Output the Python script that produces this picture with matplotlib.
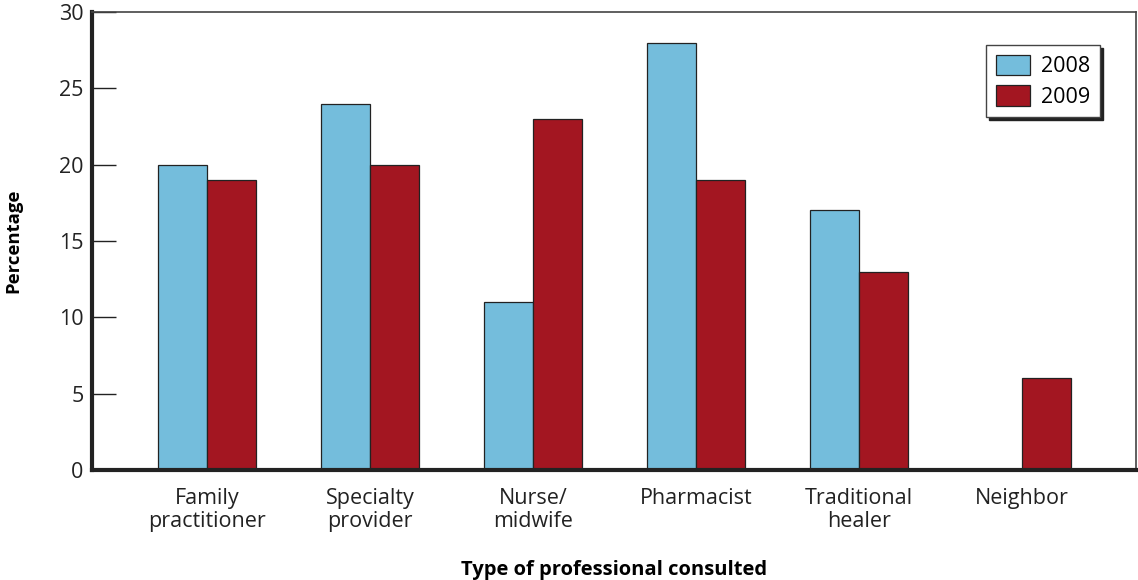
import matplotlib.pyplot as plt
import numpy as np

plt.rcParams['font.family'] = ['Open Sans', 'DejaVu Sans']

categories = ['Family\npractitioner', 'Specialty\nprovider', 'Nurse/\nmidwife',
              'Pharmacist', 'Traditional\nhealer', 'Neighbor']
vals_2008 = [20, 24, 11, 28, 17, 0]
vals_2009 = [19, 20, 23, 19, 13, 6]
yticks = [0, 5, 10, 15, 20, 25, 30]

fig = plt.figure(figsize=(11.38, 5.8), dpi=100)
ax = fig.add_axes([0.0808, 0.1897, 0.9174, 0.7896])

x = np.arange(len(categories))
w = 0.30
ax.bar(x - w / 2, vals_2008, w, color='#74bddc', edgecolor='#222222', linewidth=0.9, label='2008')
ax.bar(x + w / 2, vals_2009, w, color='#a31621', edgecolor='#222222', linewidth=0.9, label='2009')

ax.set_xlim(-0.706, 5.70)
ax.set_ylim(0, 30)
ax.set_yticks(yticks)
ax.set_xticks(x)
ax.set_xticklabels(categories, fontsize=15.5, color='#222222', linespacing=1.12)
ax.tick_params(axis='x', length=0, pad=13)
ax.tick_params(axis='y', direction='in', length=17, width=1, labelsize=15.5, pad=6, colors='#222222')

for side in ['left', 'bottom']:
    ax.spines[side].set_linewidth(3)
    ax.spines[side].set_color('#222222')
for side in ['top', 'right']:
    ax.spines[side].set_linewidth(1.2)
    ax.spines[side].set_color('#444444')

ax.set_ylabel('Percentage', fontsize=13.3, fontweight='bold')
ax.yaxis.set_label_coords(-0.067, 0.5)
ax.set_xlabel('Type of professional consulted', fontsize=14.5, fontweight='bold')
ax.xaxis.set_label_coords(0.5, -0.197)

leg = ax.legend(loc='upper right', bbox_to_anchor=(0.9655, 0.928), borderaxespad=0, fontsize=15.5,
                frameon=True, fancybox=False, edgecolor='#444444',
                shadow={'color': '#222222', 'alpha': 1.0, 'shade': 1.0},
                handlelength=1.6, handleheight=1.1, handletextpad=0.5,
                borderpad=0.45, labelspacing=0.35)
leg.get_frame().set_linewidth(1.0)

fig.savefig('out.png', dpi=100)
